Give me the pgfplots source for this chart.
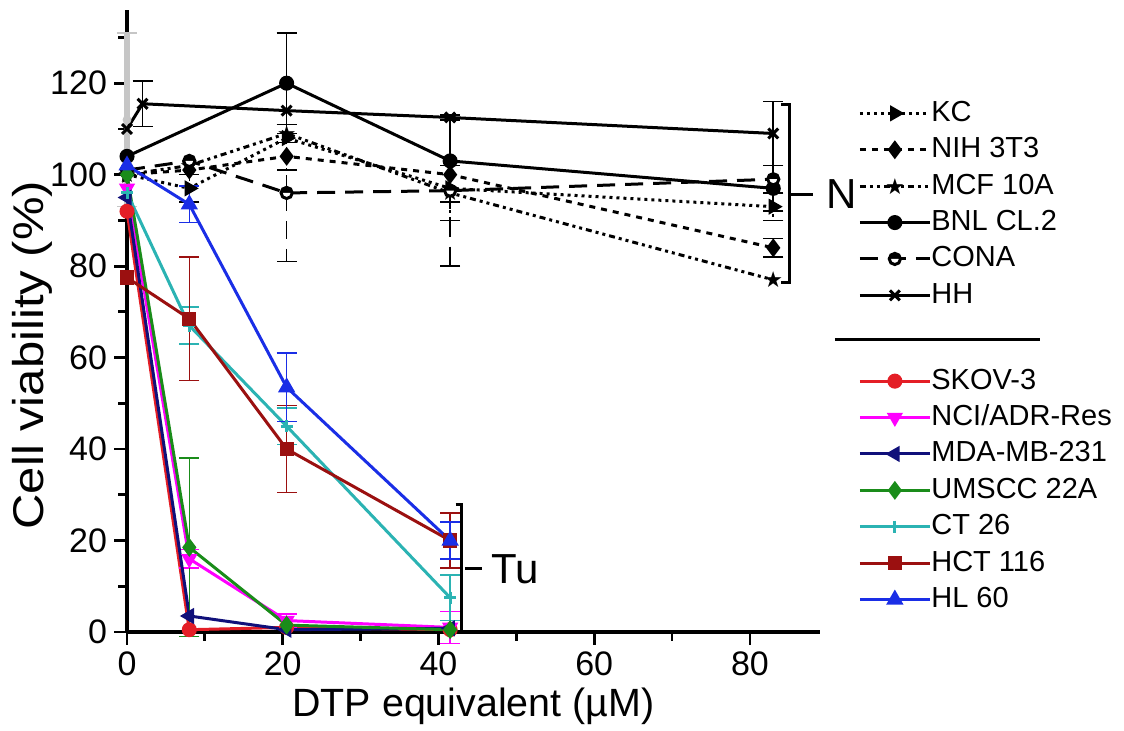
\documentclass[border=0pt]{standalone}
\usepackage{pgfplots}
\pgfplotsset{compat=1.18}
\usepackage{fontspec}
\setmainfont{Liberation Sans}
\newfontfamily\ylabfont{Liberation Sans}[FakeStretch=1.14]
\newfontfamily\symfont{DejaVu Sans}

\definecolor{skov}{HTML}{E41E26}
\definecolor{nci}{HTML}{FF00FF}
\definecolor{mda}{HTML}{10107A}
\definecolor{ums}{HTML}{1A8C1A}
\definecolor{ctc}{HTML}{2BB3B3}
\definecolor{hct}{HTML}{9B1010}
\definecolor{hl}{HTML}{1A2EE6}

\begin{document}
\begin{tikzpicture}
\begin{axis}[
  width=346.5pt, height=311pt, scale only axis,
  xmin=0, xmax=89, ymin=0, ymax=136,
  clip=false,
  axis x line*=bottom, axis y line*=left,
  axis line style={line width=1.6pt},
  tick align=outside,
  xtick={0,20,40,60,80}, minor xtick={10,30,50,70},
  ytick={0,20,...,120}, minor ytick={10,30,...,130},
  major tick length=6.5pt, minor tick length=4.5pt,
  every tick/.style={black, line width=1.4pt},
  tick label style={font=\fontsize{17}{19}\selectfont},
  /pgf/number format/assume math mode=true,
  xlabel={DTP equivalent (µM)},
  ylabel={Cell viability (\%)},
  xlabel style={font=\fontsize{19.7}{22}\selectfont, at={(axis description cs:0.5,0)}, anchor=north, yshift=-28pt, inner sep=0pt},
  ylabel style={font=\ylabfont\fontsize{21.5}{24}\selectfont, at={(axis description cs:-0.137,0.445)}, anchor=center, inner sep=0pt},
  legend style={draw=none, fill=none, at={(rel axis cs:1.0548,0.857)}, anchor=north west,
    inner sep=0pt, row sep=4.2pt, font=\fontsize{14.5}{16}\selectfont,
    nodes={inner sep=0pt, text height=11pt, text depth=3pt}},
  legend cell align=left,
  legend image code/.code={\draw[mark repeat=2, mark phase=2, #1] plot coordinates {(0pt,0pt) (17.5pt,0pt) (35pt,0pt)};},
  error bars/error bar style={line width=0.8pt},
  error bars/error mark options={rotate=90, mark size=5pt, line width=0.8pt},
]
% canvas of the reference
\path (rel axis cs:-0.1833,-0.1576) rectangle (rel axis cs:1.4387,1.0161);

% grey error bar at x = 0
\addplot[gray!45, only marks, mark=none, forget plot,
  error bars/.cd, y dir=both, y explicit, error bar style={line width=3pt}]
  coordinates {(0,112) +- (0,19)};

% ---- normal cells (N)
\addplot[black, line width=1.5pt, dotted, mark=triangle*, mark size=3.2pt, mark options={solid, rotate=-90},
  error bars/.cd, y dir=both, y explicit] coordinates {
  (0,100) (8,97) +- (0,3) (20.5,108) (41.5,97) (83,93) +- (0,3)
};
\addlegendentry{KC}
\addplot[black, line width=1.5pt, dashed, mark=diamond*, mark size=3.5pt, mark options={solid},
  error bars/.cd, y dir=both, y explicit] coordinates {
  (0,100) (8,101) (20.5,104) +- (0,3) (41.5,100) (83,84) +- (0,2)
};
\addlegendentry{NIH 3T3}
\addplot[black, line width=1.5pt, dash dot dot, mark=text,
  text mark={\symfont\fontsize{11}{11}\selectfont ★},
  error bars/.cd, y dir=both, y explicit] coordinates {
  (0,100) (8,102) (20.5,109) (41.5,96) +- (0,6) (83,77)
};
\addlegendentry{MCF 10A}
\addplot[black, line width=1.5pt, mark=*, mark size=3pt,
  error bars/.cd, y dir=both, y explicit] coordinates {
  (0,104) (20.5,120) +- (0,11) (41.5,103) +- (0,9) (83,97) +- (0,5)
};
\addlegendentry{BNL CL.2}
\addplot[black, line width=1.5pt, dash pattern=on 9pt off 5pt, mark=halfcircle*, mark size=2.8pt, mark options={solid},
  error bars/.cd, y dir=both, y explicit] coordinates {
  (0,101) (8,103) (20.5,96) +- (0,15) (41.5,96.5) +- (0,16.5) (83,99) +- (0,3)
};
\addlegendentry{CONA}
\addplot[black, line width=1.5pt, mark=x, mark size=3.5pt,
  error bars/.cd, y dir=both, y explicit] coordinates {
  (0,110) (2,115.5) +- (0,5) (20.5,114) (41.5,112.5) (83,109) +- (0,7)
};
\addlegendentry{HH}

\addlegendimage{empty legend}
\addlegendentry[text depth=9.5pt]{}

% ---- tumour cells (Tu)
\addplot[skov, line width=1.5pt, mark=*, mark size=3pt] coordinates {
  (0,92) (8,0.5) (20.5,1) (41.5,0.5)
};
\addlegendentry{SKOV-3}
\addplot[nci, line width=1.5pt, mark=triangle*, mark size=3.2pt, mark options={rotate=180},
  error bars/.cd, y dir=both, y explicit] coordinates {
  (0,97) (8,16) +- (0,2) (20.5,2.5) +- (0,1.5) (41.5,1) +- (0,3.5)
};
\addlegendentry{NCI/ADR-Res}
\addplot[mda, line width=1.5pt, mark=triangle*, mark size=3.2pt, mark options={rotate=90}] coordinates {
  (0,95) (8,3.5) (20.5,0.5) (41.5,0.8)
};
\addlegendentry{MDA-MB-231}
\addplot[ums, line width=1.5pt, mark=diamond*, mark size=3.5pt,
  error bars/.cd, y dir=both, y explicit] coordinates {
  (0,100) (8,18.5) +- (0,19.5) (20.5,1.5) (41.5,0.5)
};
\addlegendentry{UMSCC 22A}
\addplot[ctc, line width=1.5pt, mark=+, mark size=3pt,
  error bars/.cd, y dir=both, y explicit] coordinates {
  (0,96) (8,67) +- (0,4) (20.5,45) +- (0,4) (41.5,7.5) +- (0,5)
};
\addlegendentry{CT 26}
\addplot[hct, line width=1.5pt, mark=square*, mark size=2.8pt,
  error bars/.cd, y dir=both, y explicit] coordinates {
  (0,77.5) (8,68.5) +- (0,13.5) (20.5,40) +- (0,9.5) (41.5,20) +- (0,6)
};
\addlegendentry{HCT 116}
\addplot[hl, line width=1.5pt, mark=triangle*, mark size=3.5pt,
  error bars/.cd, y dir=both, y explicit] coordinates {
  (0,102) (8,93.5) +- (0,4) (20.5,53.5) +- (0,7.5) (41.5,20) +- (0,4)
};
\addlegendentry{HL 60}

% brackets and labels
\draw[line width=1.4pt] (axis cs:84.0,115.4) -- (axis cs:85.1,115.4) -- (axis cs:85.1,76.4) -- (axis cs:84.0,76.4);
\draw[line width=1.4pt] (axis cs:85.1,95.7) -- (axis cs:88.1,95.7);
\node[anchor=west, inner sep=0pt, font=\fontsize{21}{24}\selectfont] at (axis cs:89.8,95.7) {N};
\draw[line width=1.4pt] (axis cs:42.2,27.8) -- (axis cs:43.0,27.8) -- (axis cs:43.0,0);
\draw[line width=1.4pt] (axis cs:43.4,13.8) -- (axis cs:45.6,13.8);
\node[anchor=west, inner sep=0pt, font=\fontsize{21}{24}\selectfont] at (axis cs:46.7,13.8) {Tu};
\draw[line width=1.5pt] (rel axis cs:1.0216,0.4695) -- (rel axis cs:1.3175,0.4695);
\end{axis}
\end{tikzpicture}
\end{document}
